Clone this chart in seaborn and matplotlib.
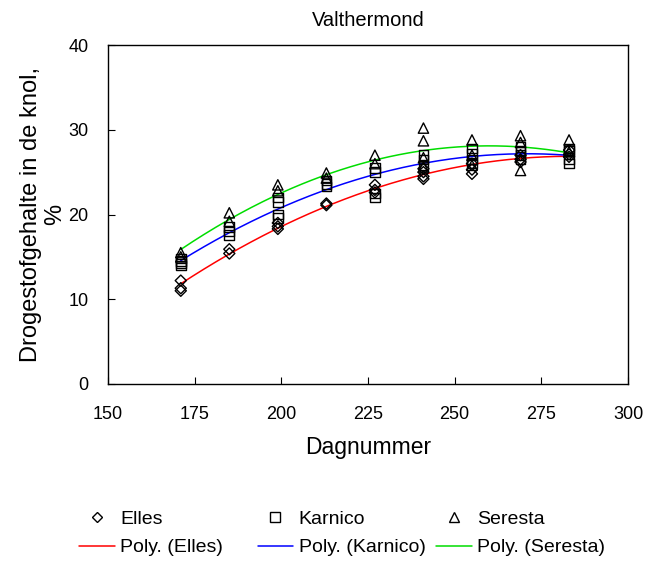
import numpy as np
import pandas as pd
import matplotlib
matplotlib.use('Agg')
import matplotlib.pyplot as plt
import seaborn as sns
from matplotlib.lines import Line2D

sns.set_style('ticks')
plt.rcParams['font.family'] = ['Liberation Sans', 'DejaVu Sans']
plt.rcParams['text.color'] = 'black'
plt.rcParams['axes.labelcolor'] = 'black'
plt.rcParams['xtick.color'] = 'black'
plt.rcParams['ytick.color'] = 'black'

# Day numbers of the sampling dates
days = [171, 185, 199, 213, 227, 241, 255, 269, 283]

# Dry matter content (%) per sampling date
elles = [[12.2, 11.3, 11.0], [15.9, 15.4], [19.0, 18.6, 18.3], [21.3, 21.1],
         [23.5, 22.9, 22.6], [25.4, 25.0, 24.5, 24.2], [26.0, 25.3, 24.8],
         [27.0, 26.5, 26.2], [27.6, 27.1, 26.8]]
karnico = [[14.8, 14.5, 14.2, 14.0], [18.5, 18.0, 17.6], [22.0, 21.5, 20.0, 19.6],
           [24.0, 23.6, 23.3], [25.5, 25.0, 22.5, 22.0], [27.0, 26.5, 25.8],
           [27.8, 27.2, 26.5, 26.0], [28.0, 27.5, 27.0, 26.5], [27.8, 27.5, 26.5, 26.0]]
seresta = [[15.5, 15.0], [20.2, 19.2], [23.5, 22.8], [24.9, 24.3], [27.0, 26.0],
           [30.2, 28.7, 26.7, 25.6], [28.8, 27.0, 25.8], [29.3, 28.5, 25.2], [28.8, 27.4]]

varieties = ['Elles', 'Karnico', 'Seresta']
markers = {'Elles': 'D', 'Karnico': 's', 'Seresta': '^'}
sizes = {'Elles': 32, 'Karnico': 48, 'Seresta': 55}
legend_ms = {'Elles': 5.5, 'Karnico': 6.5, 'Seresta': 7}
line_colors = {'Elles': '#ff0000', 'Karnico': '#0000ff', 'Seresta': '#00dd00'}

rows = []
for name, values in zip(varieties, [elles, karnico, seresta]):
    for d, vals in zip(days, values):
        for v in vals:
            rows.append({'dag': d, 'ds': v, 'ras': name})
df = pd.DataFrame(rows)

fig = plt.figure(figsize=(6.45, 5.63), dpi=100)
ax = fig.add_axes([0.1674, 0.318, 0.8062, 0.602])

legend_cols = []
for name in varieties:
    sub = df[df['ras'] == name]
    # second order polynomial trend line, like Excel's "Poly."
    coef = np.polyfit(sub['dag'], sub['ds'], 2)
    xs = np.linspace(min(days), max(days), 200)
    sns.lineplot(x=xs, y=np.polyval(coef, xs), color=line_colors[name], lw=1.1, ax=ax)
    sns.scatterplot(data=sub, x='dag', y='ds', marker=markers[name], s=sizes[name],
                    facecolor='none', edgecolor='black', linewidth=1.0, ax=ax, zorder=3)
    legend_cols.append([
        Line2D([], [], ls='none', marker=markers[name], mfc='none', mec='black',
               mew=1.0, ms=legend_ms[name], label=name),
        Line2D([], [], color=line_colors[name], lw=1.1, label=f'Poly. ({name})'),
    ])

ax.set_xlim(150, 300)
ax.set_ylim(0, 40)
ax.set_xticks([150, 175, 200, 225, 250, 275, 300])
ax.set_yticks([0, 10, 20, 30, 40])
ax.tick_params(axis='x', labelsize=13, direction='in', length=5, pad=16)
ax.tick_params(axis='y', labelsize=13, direction='in', length=5, pad=14)
for s in ax.spines.values():
    s.set_color('black')
    s.set_linewidth(1.0)
ax.set_title('Valthermond', fontsize=14.5, pad=14)
ax.set_xlabel('Dagnummer', fontsize=16.5, labelpad=9)
ax.set_ylabel('Drogestofgehalte in de knol,\n%', fontsize=17, labelpad=2, linespacing=1.1)

# one legend per column so the three columns are evenly spaced, as in Excel
for i, hs in enumerate(legend_cols):
    leg = fig.legend(handles=hs, loc='center left',
                     bbox_to_anchor=((79 + 178.5 * i) / 645, 1 - 533.5 / 563),
                     frameon=False, fontsize=14, handlelength=1.85, handletextpad=0.26,
                     labelspacing=0.55, borderpad=0, borderaxespad=0)

fig.savefig('out.png', dpi=100)
